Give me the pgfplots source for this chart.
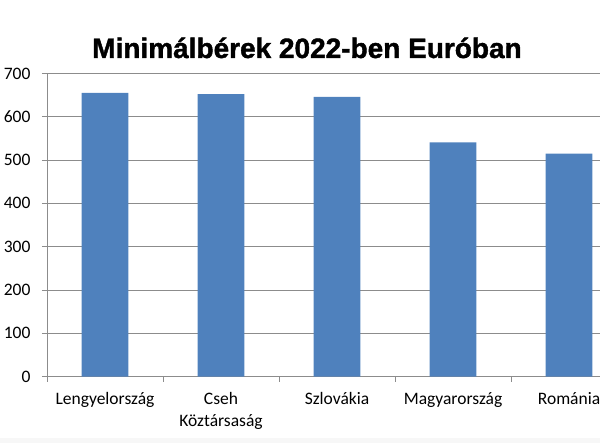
\documentclass[border=0pt]{standalone}
\usepackage{pgfplots}
\pgfplotsset{compat=1.18}
\usepackage{fontspec}
\setmainfont{Carlito}
\newfontfamily\titlefont[BoldFeatures={FakeBold=1.4}]{Liberation Sans}
\definecolor{barblue}{HTML}{4F81BD}
\definecolor{gridgray}{HTML}{8C8C8C}
\begin{document}
\begin{tikzpicture}[x=1bp,y=1bp]
\useasboundingbox (0,0) rectangle (600,443);
\fill[gray!6] (0,0) rectangle (600,5);
\node[font=\titlefont\bfseries\fontsize{28bp}{30bp}\selectfont, anchor=base] at (307,385) {Minimálbérek 2022-ben Euróban};
\begin{axis}[
  at={(47bp,66.3bp)}, anchor=south west,
  scale only axis,
  width=553bp, height=303.3bp,
  xmin=-0.5, xmax=4.267,
  ymin=0, ymax=700,
  ytick={0,100,...,700},
  xtick={-0.5,0.5,1.5,2.5,3.5},
  xticklabels={},
  extra x ticks={0,1,2,3,4},
  extra x tick labels={Lengyelország,{Cseh\\Köztársaság},Szlovákia,Magyarország,Románia},
  extra x tick style={major tick length=0pt, grid=none,
     xticklabel style={align=center, yshift=-12bp}},
  axis x line*=bottom,
  axis y line*=left,
  axis line style={gridgray, line width=0.8bp},
  tick style={gridgray, line width=0.8bp},
  tick align=outside,
  major tick length=5bp,
  ymajorgrids,
  grid style={gridgray, line width=0.8bp},
  x axis line style={-},
  y axis line style={-},
  /pgf/number format/assume math mode=true,
  tick label style={font=\fontsize{17.5bp}{22bp}\selectfont, text=black},
  yticklabel style={xshift=-8bp},
  clip=false,
]
\addplot[ybar, bar width=46.7bp, fill=barblue, draw=none] coordinates {
 (0,655) (1,652) (2,646) (3,541) (4,515)
};
\end{axis}
\end{tikzpicture}
\end{document}
